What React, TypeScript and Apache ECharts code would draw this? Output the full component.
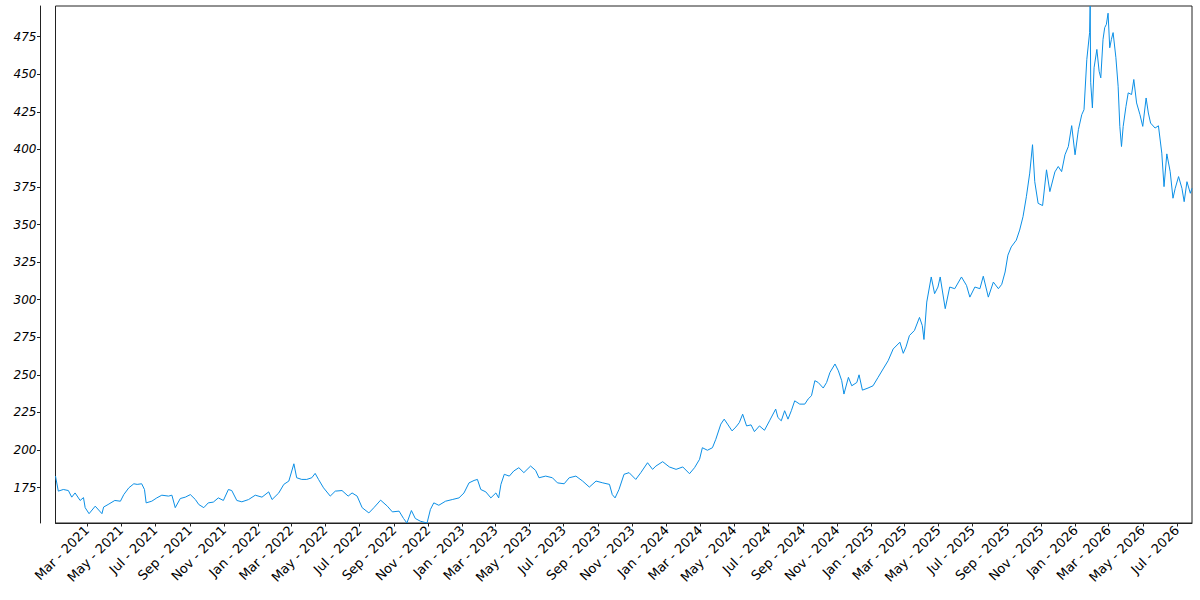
import React, { useEffect, useRef } from "react";
import * as echarts from "echarts";

const dates: string[] = [
  "2021-01-04","2021-01-09","2021-01-18","2021-01-27","2021-02-02","2021-02-08","2021-02-17","2021-02-23","2021-02-26","2021-03-05",
  "2021-03-16","2021-03-28","2021-03-31","2021-04-08","2021-04-20","2021-04-30","2021-05-06","2021-05-15","2021-05-24","2021-05-30",
  "2021-06-07","2021-06-12","2021-06-15","2021-06-25","2021-07-04","2021-07-13","2021-07-25","2021-07-31","2021-08-06","2021-08-15",
  "2021-08-24","2021-09-02","2021-09-11","2021-09-17","2021-09-26","2021-10-04","2021-10-13","2021-10-22","2021-10-31","2021-11-09",
  "2021-11-15","2021-11-24","2021-12-03","2021-12-15","2021-12-27","2022-01-08","2022-01-20","2022-01-26","2022-02-07","2022-02-16",
  "2022-02-25","2022-03-06","2022-03-11","2022-03-20","2022-03-29","2022-04-07","2022-04-13","2022-04-19","2022-04-28","2022-05-10",
  "2022-05-19","2022-05-31","2022-06-11","2022-06-18","2022-06-27","2022-07-06","2022-07-18","2022-07-27","2022-08-08","2022-08-20",
  "2022-08-29","2022-09-10","2022-09-18","2022-09-24","2022-10-02","2022-10-09","2022-10-18","2022-10-30","2022-11-05","2022-11-11",
  "2022-11-20","2022-12-02","2022-12-14","2022-12-26","2023-01-04","2023-01-13","2023-01-22","2023-01-28","2023-02-03","2023-02-12",
  "2023-02-21","2023-03-02","2023-03-07","2023-03-11","2023-03-17","2023-03-26","2023-04-03","2023-04-12","2023-04-21","2023-05-03",
  "2023-05-12","2023-05-18","2023-05-30","2023-06-11","2023-06-20","2023-07-02","2023-07-11","2023-07-23","2023-08-04","2023-08-16",
  "2023-08-28","2023-09-09","2023-09-21","2023-09-26","2023-10-01","2023-10-08","2023-10-17","2023-10-26","2023-11-07","2023-11-16",
  "2023-11-28","2023-12-07","2023-12-13","2023-12-25","2024-01-06","2024-01-18","2024-01-30","2024-02-11","2024-02-20","2024-02-29",
  "2024-03-05","2024-03-14","2024-03-23","2024-03-29","2024-04-07","2024-04-13","2024-04-19","2024-04-27","2024-05-04","2024-05-10",
  "2024-05-16","2024-05-23","2024-05-31","2024-06-06","2024-06-15","2024-06-24","2024-07-03","2024-07-14","2024-07-18","2024-07-24",
  "2024-07-30","2024-08-05","2024-08-11","2024-08-17","2024-08-26","2024-09-04","2024-09-10","2024-09-16","2024-09-22","2024-09-28",
  "2024-10-07","2024-10-13","2024-10-19","2024-10-28","2024-11-03","2024-11-09","2024-11-13","2024-11-21","2024-11-27","2024-12-06",
  "2024-12-10","2024-12-16","2024-12-26","2025-01-04","2025-01-13","2025-01-22","2025-01-31","2025-02-09","2025-02-21","2025-02-27",
  "2025-03-04","2025-03-10","2025-03-19","2025-03-28","2025-04-02","2025-04-05","2025-04-10","2025-04-18","2025-04-24","2025-04-30",
  "2025-05-04","2025-05-13","2025-05-21","2025-05-30","2025-06-11","2025-06-20","2025-06-26","2025-07-05","2025-07-14","2025-07-20",
  "2025-07-29","2025-08-07","2025-08-16","2025-08-22","2025-08-28","2025-09-02","2025-09-08","2025-09-17","2025-09-23","2025-09-29",
  "2025-10-05","2025-10-11","2025-10-16","2025-10-20","2025-10-26","2025-11-03","2025-11-10","2025-11-16","2025-11-25","2025-12-01",
  "2025-12-07","2025-12-13","2025-12-19","2025-12-25","2025-12-31","2026-01-06","2026-01-12","2026-01-16","2026-01-21","2026-01-26",
  "2026-01-27","2026-01-28","2026-01-31","2026-02-03","2026-02-08","2026-02-12","2026-02-15","2026-02-19","2026-02-22","2026-02-25",
  "2026-02-28","2026-03-03","2026-03-06","2026-03-09","2026-03-14","2026-03-18","2026-03-21","2026-03-24","2026-03-27","2026-04-01",
  "2026-04-05","2026-04-11","2026-04-15","2026-04-20","2026-04-26","2026-05-01","2026-05-07","2026-05-11","2026-05-15","2026-05-23",
  "2026-05-29","2026-06-04","2026-06-08","2026-06-13","2026-06-19","2026-06-24","2026-06-28","2026-07-04","2026-07-10","2026-07-14",
  "2026-07-19","2026-07-25","2026-07-28"
];

const prices: number[] = [
  182.6,172.6,173.7,173.0,168.6,171.4,166.4,168.3,161.6,157.6,
  162.6,157.6,162.0,163.7,166.4,165.9,170.3,174.8,177.5,177.1,
  177.5,173.7,164.8,165.9,168.1,169.9,169.3,169.9,161.6,167.7,
  168.6,170.3,167.0,163.7,161.6,164.8,165.3,168.1,166.4,173.7,
  173.0,166.4,165.5,167.0,169.9,168.6,172.1,167.0,171.4,177.1,
  179.3,190.8,181.5,180.4,180.4,181.5,184.4,180.4,174.8,169.3,
  172.6,173.0,169.3,171.4,169.3,161.6,158.1,161.6,166.6,162.6,
  158.8,159.3,154.4,151.4,159.7,154.4,152.6,151.4,160.4,164.8,
  163.2,165.9,167.0,168.1,171.4,178.1,179.7,180.4,173.7,172.1,
  168.1,171.4,168.1,177.1,183.8,182.6,186.0,188.2,184.9,189.3,
  186.4,181.5,182.6,181.5,178.1,177.5,181.5,182.6,179.3,175.3,
  179.3,178.1,177.1,170.3,168.1,173.7,183.8,184.9,180.4,184.9,
  191.5,187.1,189.3,192.2,188.7,187.1,188.7,184.2,188.2,193.8,
  201.5,199.8,201.5,207.1,217.2,220.5,217.2,212.7,215.3,218.2,
  223.8,216.0,216.7,212.2,216.0,213.1,219.4,227.2,221.6,219.4,
  226.1,220.5,226.1,232.7,230.5,230.5,233.9,236.1,246.1,244.9,
  241.2,244.9,251.6,257.2,252.7,246.1,237.2,248.3,242.7,244.9,
  250.0,239.8,241.2,242.7,248.3,253.9,259.4,267.2,271.7,264.3,
  268.6,276.1,279.5,288.2,282.8,273.5,298.4,315.1,304.0,308.4,
  315.1,294.0,308.4,307.3,315.1,309.5,301.7,308.4,307.3,315.6,
  301.7,311.7,307.3,310.2,318.4,329.6,335.1,339.6,346.3,355.2,
  368.5,384.2,403.1,378.5,364.1,362.6,386.4,371.9,385.0,388.6,
  385.2,396.4,401.9,415.8,396.4,413.1,423.1,426.4,459.8,477.7,
  495.4,444.3,427.6,454.3,466.5,452.0,447.6,473.2,481.0,483.2,
  490.6,467.6,473.2,477.7,461.0,442.0,415.3,401.9,415.3,428.6,
  437.6,436.5,446.5,430.9,423.1,415.3,434.2,424.2,417.5,414.2,
  415.7,397.5,375.2,397.0,385.2,367.5,374.1,381.9,374.1,365.2,
  378.5,370.8,374.1
];

const xTickDates: string[] = [
  "2021-03-01","2021-05-01","2021-07-01","2021-09-01","2021-11-01",
  "2022-01-01","2022-03-01","2022-05-01","2022-07-01","2022-09-01","2022-11-01",
  "2023-01-01","2023-03-01","2023-05-01","2023-07-01","2023-09-01","2023-11-01",
  "2024-01-01","2024-03-01","2024-05-01","2024-07-01","2024-09-01","2024-11-01",
  "2025-01-01","2025-03-01","2025-05-01","2025-07-01","2025-09-01","2025-11-01",
  "2026-01-01","2026-03-01","2026-05-01","2026-07-01"
];

const monthNames: string[] = ["Jan","Feb","Mar","Apr","May","Jun","Jul","Aug","Sep","Oct","Nov","Dec"];

const yTicks: number[] = [175, 200, 225, 250, 275, 300, 325, 350, 375, 400, 425, 450, 475];

const toTs = (s: string): number => {
  const [y, m, d] = s.split("-").map(Number);
  return new Date(y, m - 1, d).getTime();
};

export default function App() {
  const ref = useRef<HTMLDivElement>(null);

  useEffect(() => {
    if (!ref.current) return;
    const chart = echarts.init(ref.current, null, { renderer: "svg" });
    const seriesData = dates.map((d, i) => [toTs(d), prices[i]]);
    const tickValues = xTickDates.map(toTs);
    const font = "DejaVu Sans";

    chart.setOption({
      animation: false,
      backgroundColor: "#ffffff",
      grid: {
        left: 55.5,
        right: 8,
        top: 6,
        bottom: 77,
        show: true,
        borderColor: "#222",
        borderWidth: 1,
        backgroundColor: "transparent",
        outerBoundsMode: "none",
      },
      xAxis: {
        type: "value",
        min: "dataMin",
        max: "dataMax",
        axisLine: { show: true, onZero: false, lineStyle: { color: "#222", width: 1 } },
        axisTick: {
          show: true,
          customValues: tickValues,
          length: 3.5,
          lineStyle: { color: "#222", width: 1 },
        },
        axisLabel: {
          customValues: tickValues,
          rotate: 45,
          margin: 5,
          fontSize: 13,
          fontFamily: font,
          color: "#000",
          formatter: (v: number) => {
            const d = new Date(v);
            return `${monthNames[d.getMonth()]} - ${d.getFullYear()}`;
          },
        },
        splitLine: { show: false },
      },
      yAxis: {
        type: "value",
        min: "dataMin",
        max: "dataMax",
        offset: 15,
        axisLine: { show: true, onZero: false, lineStyle: { color: "#222", width: 1 } },
        axisTick: {
          show: true,
          customValues: yTicks,
          length: 3.5,
          lineStyle: { color: "#222", width: 1 },
        },
        axisLabel: {
          customValues: yTicks,
          margin: 4,
          fontSize: 12,
          fontStyle: "italic",
          fontFamily: font,
          color: "#000",
        },
        splitLine: { show: false },
      },
      series: [
        {
          type: "line",
          data: seriesData,
          showSymbol: false,
          symbol: "none",
          clip: true,
          lineStyle: { width: 1, color: "#0b8fe6" },
          itemStyle: { color: "#0b8fe6" },
        },
      ],
    });

    return () => chart.dispose();
  }, []);

  return (
    <div
      ref={ref}
      style={{ position: "fixed", left: 0, top: 0, width: 1200, height: 600, background: "#fff" }}
    />
  );
}
